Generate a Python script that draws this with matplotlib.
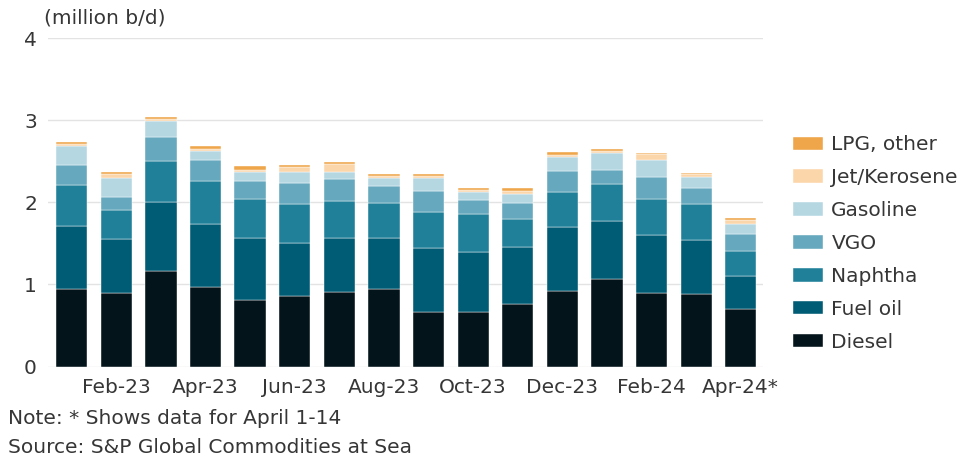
import matplotlib.pyplot as plt
import numpy as np

plt.rcParams['font.family'] = ['DejaVu Sans']

months = ["Jan-23", "Feb-23", "Mar-23", "Apr-23", "May-23", "Jun-23", "Jul-23", "Aug-23",
          "Sep-23", "Oct-23", "Nov-23", "Dec-23", "Jan-24", "Feb-24", "Mar-24", "Apr-24*"]

diesel   = [0.94, 0.90, 1.16, 0.97, 0.81, 0.86, 0.91, 0.94, 0.66, 0.66, 0.76, 0.92, 1.06, 0.90, 0.88, 0.70]
fuel_oil = [0.77, 0.65, 0.84, 0.77, 0.76, 0.65, 0.66, 0.63, 0.78, 0.74, 0.69, 0.78, 0.71, 0.70, 0.66, 0.40]
naphtha  = [0.50, 0.36, 0.50, 0.52, 0.47, 0.47, 0.45, 0.42, 0.44, 0.46, 0.35, 0.43, 0.45, 0.44, 0.44, 0.31]
vgo      = [0.25, 0.15, 0.30, 0.25, 0.22, 0.26, 0.26, 0.21, 0.26, 0.17, 0.19, 0.25, 0.17, 0.27, 0.20, 0.21]
gasoline = [0.23, 0.24, 0.19, 0.11, 0.11, 0.13, 0.09, 0.09, 0.15, 0.09, 0.11, 0.17, 0.21, 0.21, 0.13, 0.11]
jet      = [0.02, 0.05, 0.02, 0.03, 0.02, 0.06, 0.10, 0.03, 0.03, 0.03, 0.04, 0.03, 0.03, 0.07, 0.03, 0.06]
lpg      = [0.02, 0.02, 0.03, 0.04, 0.05, 0.03, 0.02, 0.03, 0.02, 0.03, 0.04, 0.03, 0.02, 0.01, 0.02, 0.02]

series = [diesel, fuel_oil, naphtha, vgo, gasoline, jet, lpg]
names = ["Diesel", "Fuel oil", "Naphtha", "VGO", "Gasoline", "Jet/Kerosene", "LPG, other"]
colors = ["#03141b", "#005b74", "#20809a", "#66a9be", "#b5d7e1", "#fcd6ab", "#efa54a"]

txt = "#363636"
fs = 14.5

fig = plt.figure(figsize=(9.61, 4.59), dpi=100)
ax = fig.add_axes([0.050, 0.2015, 0.744, 0.7155])

x = np.arange(len(months))
bottom = np.zeros(len(months))
handles = []
for vals, name, c in zip(series, names, colors):
    b = ax.bar(x, vals, 0.70, bottom=bottom, color=c, label=name,
               edgecolor="white", linewidth=0.3)
    handles.append(b)
    bottom += np.array(vals)

ax.set_ylim(0, 4)
ax.set_xlim(-0.53, 15.5)
ax.set_yticks([0, 1, 2, 3, 4])
ax.yaxis.grid(True, color="#e3e3e3", linewidth=1)
ax.set_axisbelow(True)
for s in ax.spines.values():
    s.set_visible(False)
ax.tick_params(axis="both", length=0, labelsize=fs, colors=txt)
ax.tick_params(axis="y", pad=8)
ax.tick_params(axis="x", pad=8)
ax.set_xticks(x[1::2])
ax.set_xticklabels(months[1::2])

fig.text(0.046, 0.96, "(million b/d)", fontsize=fs, color=txt, va="center")

# legend on the right, top entry first
fig.legend(handles[::-1], names[::-1], loc="center left", bbox_to_anchor=(0.8148, 0.4695),
           frameon=False, fontsize=fs, handlelength=1.5, handleheight=0.65, borderpad=0,
           handletextpad=0.4, labelspacing=0.69, labelcolor=txt)

fig.text(0.008, 0.089, "Note: * Shows data for April 1-14", fontsize=fs, color=txt, va="center")
fig.text(0.008, 0.026, "Source: S&P Global Commodities at Sea", fontsize=fs, color=txt, va="center")

fig.savefig("out.png", dpi=100)
